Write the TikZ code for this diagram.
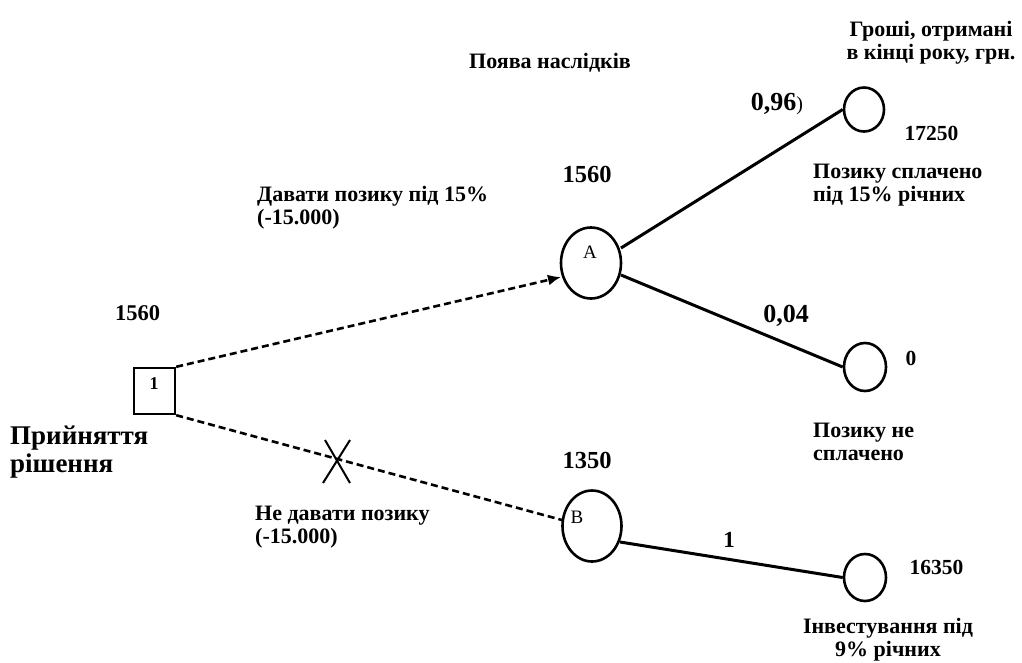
\documentclass[tikz,border=0pt]{standalone}
\usepackage{fontspec}
\setmainfont{Liberation Serif}
\usetikzlibrary{arrows.meta,shapes.geometric,calc}
\begin{document}
\begin{tikzpicture}[x=1pt,y=-1pt,
  lbl/.style={font=\fontsize{22}{23}\selectfont\bfseries,inner sep=0pt,align=left},
  num/.style={font=\fontsize{21.5}{23}\selectfont\bfseries,inner sep=0pt},
  bignum/.style={font=\fontsize{24.5}{26}\selectfont\bfseries,inner sep=0pt},
  prob/.style={font=\fontsize{26}{28}\selectfont\bfseries,inner sep=0pt},
  chance/.style={ellipse,draw,line width=2.6pt,inner sep=0pt},
  leaf/.style={ellipse,draw,line width=2.6pt,inner sep=0pt},
  dashline/.style={line width=2.6pt,dash pattern=on 7pt off 4pt},
  solidline/.style={line width=3pt}]
\useasboundingbox (0,0) rectangle (1022,662);
% decision node
\node[draw,line width=2.4pt,minimum width=41pt,minimum height=46pt,inner sep=0pt] (d) at (154.5,391) {};
\node[font=\fontsize{18}{20}\selectfont\bfseries,inner sep=0pt] (dl) at (154,384) {1};
\node[num,font=\fontsize{22.5}{24}\selectfont\bfseries] (v0) at (137.5,313) {1560};
\node[font=\fontsize{27}{28}\selectfont\bfseries,align=left,anchor=base west,inner sep=0pt] (dec) at (10,472) {Прийняття\\рішення};
% chance nodes
\node[chance,minimum width=60pt,minimum height=71pt] (A) at (591,263) {};
\node[font=\fontsize{19}{20}\selectfont,inner sep=0pt] (Al) at (590,252) {A};
\node[chance,minimum width=59pt,minimum height=71pt] (B) at (592,526) {};
\node[font=\fontsize{19}{20}\selectfont,inner sep=0pt] (Bl) at (577,517) {B};
\node[bignum] (vA) at (587,174) {1560};
\node[bignum] (vB) at (587,460) {1350};
% leaves
\node[leaf,minimum width=40pt,minimum height=44pt] (L1) at (864,109.5) {};
\node[leaf,minimum width=42pt,minimum height=48pt] (L2) at (865,367) {};
\node[leaf,minimum width=42pt,minimum height=47pt] (L3) at (865,577.5) {};
% connectors
\coordinate (aIn) at (561,277);
\draw[dashline,-{Latex[length=13pt,width=11pt]}] (d.north east) -- (aIn);
\coordinate (bend) at (562,520);
\draw[dashline] (d.south east) -- (bend);
\coordinate (a1) at (621,248);
\coordinate (a2) at (621,275);
\coordinate (b1) at (620,542);
\draw[solidline] (a1) -- (L1.west);
\draw[solidline] (a2) -- (L2.west);
\draw[solidline] (b1) -- (L3.west);
% X mark
\coordinate (x0) at (337,461);
\draw[line width=2pt] ($(x0)+(-12,-21)$) -- ($(x0)+(13,22)$);
\draw[line width=2pt] ($(x0)+(13,-21)$) -- ($(x0)+(-14,22)$);
% labels (multi-line nodes: base = baseline of last line)
\node[lbl,anchor=base west] (t1) at (257,224) {Давати позику під 15\%\\(-15.000)};
\node[lbl,anchor=base west] (t2) at (255,543) {Не давати позику\\(-15.000)};
\node[lbl,anchor=base] (t3) at (550,68) {Поява наслідків};
\node[lbl,align=center,anchor=base] (t4) at (931,59) {Гроші, отримані\\в кінці року, грн.};
\node[prob] (p1) at (777,104) {0,96\normalfont\fontsize{20}{22}\selectfont)};
\node[prob] (p2) at (786,316) {0,04};
\node[prob,font=\fontsize{23}{25}\selectfont\bfseries] (p3) at (729,540) {1};
\node[num] (r1) at (931.5,133) {17250};
\node[num] (r2) at (911,358) {0};
\node[num] (r3) at (936.5,567) {16350};
\node[lbl,anchor=base west] (s1) at (813,201) {Позику сплачено\\під 15\% річних};
\node[lbl,anchor=base west] (s2) at (813,460) {Позику не\\сплачено};
\node[lbl,align=center,anchor=base] (s3) at (888,656) {Інвестування під\\9\% річних};
\end{tikzpicture}
\end{document}
